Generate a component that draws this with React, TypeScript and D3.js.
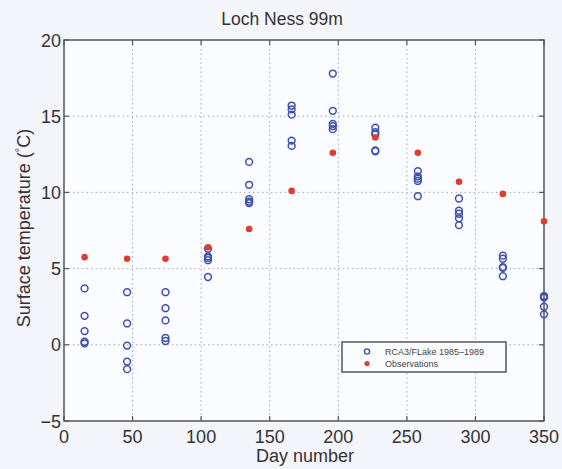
import React from "react";
import * as d3 from "d3";

const days = [15, 46, 74, 105, 135, 166, 196, 227, 258, 288, 320, 350];
const modelValues: number[][] = [
  [3.7, 1.9, 0.9, 0.2, 0.1],
  [3.45, 1.4, -0.05, -1.1, -1.6],
  [3.45, 2.4, 1.6, 0.45, 0.25],
  [6.3, 5.8, 5.55, 4.45, 5.7],
  [12.0, 10.5, 9.55, 9.3, 9.4],
  [15.7, 15.45, 15.1, 13.4, 13.05],
  [17.8, 15.35, 14.5, 14.35, 14.15],
  [14.25, 13.95, 13.8, 12.7, 12.75],
  [11.4, 11.05, 10.75, 9.75, 10.9],
  [9.6, 8.8, 8.6, 8.3, 7.85],
  [5.85, 5.65, 5.05, 4.5, 5.1],
  [3.2, 3.1, 2.5, 2.0, 3.15],
];
const obsValues = [5.75, 5.65, 5.65, 6.4, 7.6, 10.1, 12.6, 13.6, 12.6, 10.7, 9.9, 8.1];
const xTicks = [0, 50, 100, 150, 200, 250, 300, 350];
const yTicks = [-5, 0, 5, 10, 15, 20];
const legendLabels = ["RCA3/FLake 1985\u20131989", "Observations"];

export default function App() {
  const W = 562, H = 469;
  const left = 64, right = 544, top = 40, bottom = 421;
  const x = d3.scaleLinear().domain([0, 350]).range([left, right]);
  const y = d3.scaleLinear().domain([-5, 20]).range([bottom, top]);
  const blue = "#3d4fae";
  const red = "#e53b2c";
  const font = "Liberation Sans, Arial, Helvetica, sans-serif";
  const axisColor = "#555";

  return (
    <svg width={W} height={H} style={{ position: "absolute", left: 0, top: 0, background: "#f3f5fb" }}>
      <rect x={0} y={0} width={W} height={H} fill="#f3f5fb" />
      <rect x={left} y={top} width={right - left} height={bottom - top} fill="#fbfcff" />
      {/* grid */}
      {xTicks.slice(1, -1).map((t) => (
        <line key={"gx" + t} x1={x(t)} x2={x(t)} y1={top} y2={bottom} stroke="#a4a9b8" strokeWidth={1} strokeDasharray="1.5,3" />
      ))}
      {yTicks.slice(1, -1).map((t) => (
        <line key={"gy" + t} x1={left} x2={right} y1={y(t)} y2={y(t)} stroke="#a4a9b8" strokeWidth={1} strokeDasharray="1.5,3" />
      ))}
      {/* ticks */}
      {xTicks.map((t) => (
        <g key={"tx" + t}>
          <line x1={x(t)} x2={x(t)} y1={bottom} y2={bottom - 5} stroke={axisColor} strokeWidth={1.2} />
          <line x1={x(t)} x2={x(t)} y1={top} y2={top + 5} stroke={axisColor} strokeWidth={1.2} />
          <text x={x(t)} y={443} textAnchor="middle" fontFamily={font} fontSize={18} fill="#333">{t}</text>
        </g>
      ))}
      {yTicks.map((t) => (
        <g key={"ty" + t}>
          <line x1={left} x2={left + 5} y1={y(t)} y2={y(t)} stroke={axisColor} strokeWidth={1.2} />
          <line x1={right} x2={right - 5} y1={y(t)} y2={y(t)} stroke={axisColor} strokeWidth={1.2} />
          <text x={left - 3} y={y(t) + 6.5} textAnchor="end" fontFamily={font} fontSize={18} fill="#333">{t === -5 ? "\u22125" : t}</text>
        </g>
      ))}
      <rect x={left} y={top} width={right - left} height={bottom - top} fill="none" stroke={axisColor} strokeWidth={1.5} />
      {/* model circles */}
      {days.map((d, i) =>
        modelValues[i].map((v, j) => (
          <circle key={"m" + i + "-" + j} cx={x(d)} cy={y(v)} r={3.4} fill="none" stroke={blue} strokeWidth={1.5} />
        ))
      )}
      {/* observations */}
      {days.map((d, i) => (
        <circle key={"o" + i} cx={x(d)} cy={y(obsValues[i])} r={3.3} fill={red} />
      ))}
      {/* legend */}
      <rect x={342} y={342} width={164} height={30} fill="#fbfcff" stroke={axisColor} strokeWidth={1.5} />
      <circle cx={367} cy={351.5} r={2.6} fill="none" stroke={blue} strokeWidth={1.4} />
      <circle cx={367} cy={363.5} r={2.6} fill={red} />
      <text x={385} y={355} fontFamily={font} fontSize={9} fill="#444">{legendLabels[0]}</text>
      <text x={385} y={367} fontFamily={font} fontSize={9} fill="#444">{legendLabels[1]}</text>
      {/* title and axis labels */}
      <text x={282} y={25} textAnchor="middle" fontFamily={font} fontSize={17.5} fill="#333">Loch Ness 99m</text>
      <text x={305} y={462} textAnchor="middle" fontFamily={font} fontSize={18} fill="#333">Day number</text>
      <text transform="translate(30,228) rotate(-90)" textAnchor="middle" fontFamily={font} fontSize={18} fill="#333">
        Surface temperature (<tspan dy={-7} fontSize={11}>°</tspan><tspan dy={7}>C)</tspan>
      </text>
    </svg>
  );
}
